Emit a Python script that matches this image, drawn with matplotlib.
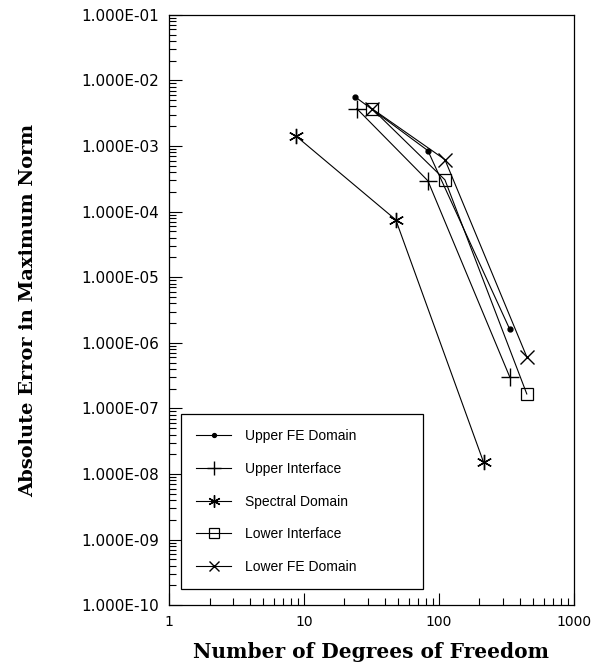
import matplotlib
matplotlib.use("Agg")
import matplotlib.pyplot as plt
import numpy as np
from matplotlib.ticker import FixedLocator, FuncFormatter, NullFormatter

# --- data ---
upper_fe_x = [24, 83, 336]
upper_fe_y = [5.6e-3, 8.5e-4, 1.6e-6]

upper_if_x = [24.7, 83, 336]
upper_if_y = [3.7e-3, 2.95e-4, 3.0e-7]

spectral_x = [8.7, 48, 215]
spectral_y = [1.43e-3, 7.5e-5, 1.5e-8]

lower_if_x = [32, 111, 449]
lower_if_y = [3.7e-3, 3.05e-4, 1.66e-7]

lower_fe_x = [32, 111, 449]
lower_fe_y = [3.7e-3, 6.2e-4, 6.1e-7]

labels = ["Upper FE Domain", "Upper Interface", "Spectral Domain",
          "Lower Interface", "Lower FE Domain"]

x_decades = [1, 10, 100, 1000]
y_decades = [1e-10, 1e-9, 1e-8, 1e-7, 1e-6, 1e-5, 1e-4, 1e-3, 1e-2, 1e-1]

fig = plt.figure(figsize=(5.97, 6.71), dpi=100)
ax = fig.add_axes([0.283, 0.098, 0.678, 0.880])

lw = 0.8
ax.plot(upper_fe_x, upper_fe_y, color='black', lw=lw, marker='o', ms=3.5, label=labels[0])
ax.plot(upper_if_x, upper_if_y, color='black', lw=lw, marker='+', ms=13, mew=1.0, label=labels[1])
ax.plot(spectral_x, spectral_y, color='black', lw=lw, marker=(6, 2, 0), ms=11, mew=1.0, label=labels[2])
ax.plot(lower_if_x, lower_if_y, color='black', lw=lw, marker='s', ms=8.5, mew=0.9,
        mfc='none', label=labels[3])
ax.plot(lower_fe_x, lower_fe_y, color='black', lw=lw, marker='x', ms=9.5, mew=1.0, label=labels[4])

ax.set_xscale('log')
ax.set_yscale('log')
ax.set_xlim(1, 1000)
ax.set_ylim(1e-10, 1e-1)

# only ticks inside the view, so no stray labels past the edges
ax.xaxis.set_major_locator(FixedLocator(x_decades))
ax.yaxis.set_major_locator(FixedLocator(y_decades))
x_minor = [d * m for d in x_decades[:-1] for m in range(2, 10)]
y_minor = [d * m for d in y_decades[:-1] for m in range(2, 10)]
ax.xaxis.set_minor_locator(FixedLocator(x_minor))
ax.yaxis.set_minor_locator(FixedLocator(y_minor))
ax.yaxis.set_major_formatter(FuncFormatter(lambda v, p: f"{v:.3E}"))
ax.yaxis.set_minor_formatter(NullFormatter())
ax.xaxis.set_major_formatter(FuncFormatter(lambda v, p: f"{v:g}"))
ax.xaxis.set_minor_formatter(NullFormatter())

ax.tick_params(which='both', direction='in', top=False, right=False, width=0.8)
ax.tick_params(which='major', length=9, pad=7)
ax.tick_params(which='minor', length=5)
ax.tick_params(axis='y', labelsize=11)
ax.tick_params(axis='x', labelsize=10)
for lab in ax.get_xticklabels() + ax.get_yticklabels():
    lab.set_fontfamily('DejaVu Sans')

for s in ax.spines.values():
    s.set_linewidth(0.9)

ax.set_xlabel("Number of Degrees of Freedom", family='DejaVu Serif',
              fontweight='bold', fontsize=14.5)
ax.set_ylabel("Absolute Error in Maximum Norm", family='DejaVu Serif',
              fontweight='bold', fontsize=14)
ax.xaxis.set_label_coords(0.5, -0.063)
ax.yaxis.set_label_coords(-0.326, 0.5)

leg = ax.legend(loc='lower left', bbox_to_anchor=(0.030, 0.027, 0.598, 0.29), mode='expand',
                fancybox=False, edgecolor='black', framealpha=1,
                prop={'family': 'Liberation Sans', 'size': 10}, markerscale=0.8,
                handlelength=2.5, labelspacing=1.35, borderpad=1.1, handletextpad=1.0,
                borderaxespad=0)
leg.get_frame().set_linewidth(0.9)

fig.savefig("out.png", dpi=100)
